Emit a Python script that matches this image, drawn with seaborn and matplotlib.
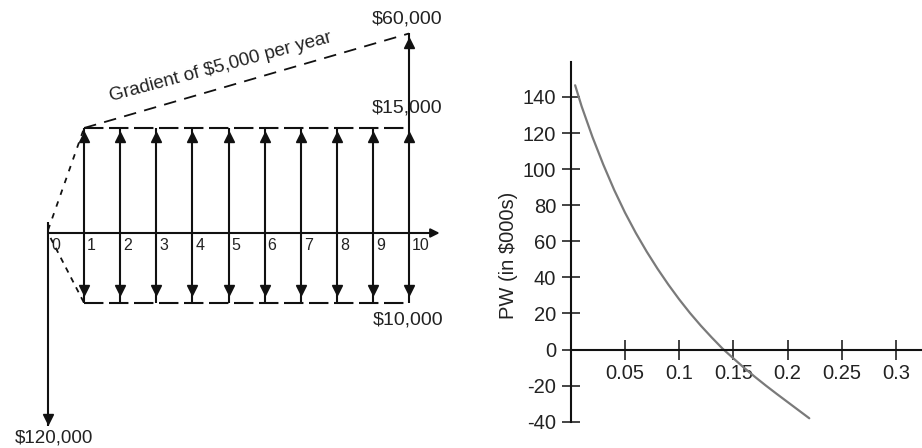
import numpy as np
import pandas as pd
import matplotlib
matplotlib.use('Agg')
import matplotlib.pyplot as plt
import seaborn as sns

sns.set_theme(style='white')
plt.rcParams['font.family'] = ['Liberation Sans', 'DejaVu Sans']
plt.rcParams['lines.scale_dashes'] = False

# cash flow diagram (amounts in $000)
years = list(range(11))
receipts = [0, 15, 15, 15, 15, 15, 15, 15, 15, 15, 60]
costs = [120, 10, 10, 10, 10, 10, 10, 10, 10, 10, 10]
# the two big flows are shortened in the diagram (not to scale)
drawn_up = [0, 15, 15, 15, 15, 15, 15, 15, 15, 15, 28.5]
drawn_down = [27.5, 10, 10, 10, 10, 10, 10, 10, 10, 10, 10]
gradient_text = 'Gradient of $5,000 per year'

# PW vs interest rate
rates = [0.004, 0.01, 0.02, 0.03, 0.04, 0.05, 0.06, 0.07, 0.08, 0.09, 0.10, 0.11,
         0.12, 0.13, 0.14, 0.15, 0.16, 0.17, 0.18, 0.19, 0.20, 0.21, 0.22]
pw = [146.5, 134.8, 117.8, 102.5, 88.5, 75.9, 64.6, 54.3, 44.8, 36.0, 27.8, 20.2,
      13.2, 6.7, 0.5, -4.9, -10.2, -15.2, -20.0, -24.6, -29.1, -33.6, -38.1]
x_ticks = [0.05, 0.1, 0.15, 0.2, 0.25, 0.3]
x_labels = ['0.05', '0.1', '0.15', '0.2', '0.25', '0.3']
y_ticks = [-40, -20, 0, 20, 40, 60, 80, 100, 120, 140]
y_label = 'PW (in $000s)'

ink = '#111111'
txt = '#222222'

fig = plt.figure(figsize=(9.22, 4.48), dpi=100)

# ---- left: cash flow diagram ----
ax1 = fig.add_axes([0, 0, 460 / 922, 1])
ax1.set_xlim(-48 / 36.1, (460 - 48) / 36.1)
ax1.set_ylim(-(448 - 233) / 7, 233 / 7)
ax1.axis('off')

# time axis with arrow
ax1.annotate('', xy=(10.85, 0), xytext=(0, 0),
             arrowprops=dict(arrowstyle='-|>', color=ink, lw=1.5, mutation_scale=13,
                             shrinkA=0, shrinkB=0))

for yr, up, down in zip(years, drawn_up, drawn_down):
    top = up if up > 0 else 1.6
    ax1.plot([yr, yr], [-down, top], color=ink, lw=1.5, solid_capstyle='butt')
    if up > 0:
        ax1.plot(yr, up - 1.3, marker='^', color=ink, ms=6.5, mec=ink)
    if yr == 0:
        ax1.plot(yr, -down + 1.0, marker='v', color=ink, ms=6.5, mec=ink)
    else:
        ax1.plot(yr, -down + 1.85, marker='v', color=ink, ms=6.5, mec=ink)
    ax1.annotate(str(yr), xy=(yr, 0), xytext=(3, -12), textcoords='offset pixels',
                 ha='left', va='center', fontsize=11.5, color=txt)

# year-10 arrow also passes the $15,000 level
ax1.plot(years[-1], receipts[1] - 1.3, marker='^', color=ink, ms=6.5, mec=ink)

# dashed guide lines
ax1.plot([years[1], years[-1]], [drawn_up[1], drawn_up[1]], color=ink, lw=1.5, ls=(0, (14, 4)))
ax1.plot([years[1], years[-1]], [-drawn_down[1], -drawn_down[1]], color=ink, lw=1.5, ls=(0, (14, 4)))
ax1.plot([years[1], years[-1]], [drawn_up[1], drawn_up[-1]], color=ink, lw=1.3, ls=(0, (9, 6)))
ax1.plot([years[0], years[1]], [0.4, drawn_up[1]], color=ink, lw=1.3, ls=(0, (4, 5)))
ax1.plot([years[0], years[1]], [0, -drawn_down[1]], color=ink, lw=1.3, ls=(12, (4, 4)))

ax1.annotate(f'${receipts[-1]},000', xy=(years[-1], drawn_up[-1]), xytext=(-2, 14),
             textcoords='offset pixels', ha='center', va='center', fontsize=14, color=txt)
ax1.annotate(f'${receipts[1]},000', xy=(years[-1], drawn_up[1]), xytext=(-2, 20),
             textcoords='offset pixels', ha='center', va='center', fontsize=14, color=txt)
ax1.annotate(f'${costs[1]},000', xy=(years[-1], -drawn_down[1]), xytext=(-1, -17),
             textcoords='offset pixels', ha='center', va='center', fontsize=14, color=txt)
ax1.annotate(f'${costs[0]},000', xy=(years[0], -drawn_down[0]), xytext=(6, -12),
             textcoords='offset pixels', ha='center', va='center', fontsize=13.5, color=txt)
mid = ((years[1] + years[-1]) / 2, (drawn_up[1] + drawn_up[-1]) / 2)
ax1.annotate(gradient_text, xy=mid, xytext=(-26, 14), textcoords='offset pixels',
             ha='center', va='center', rotation=15, rotation_mode='anchor',
             fontsize=13.5, color=txt)

# ---- right: PW curve ----
ax2 = fig.add_axes([570.8 / 922, (448 - 421.7) / 448, (922 - 570.8) / 922, (421.7 - 62) / 448])
curve = pd.DataFrame({'rate': rates, 'pw': pw})
sns.lineplot(data=curve, x='rate', y='pw', ax=ax2, color='#7a7a7a', lw=1.6)
ax2.set_xlim(0, (922 - 570.8) / 1084)
ax2.set_ylim(-40, 159.4)
for s in ['top', 'right']:
    ax2.spines[s].set_visible(False)
ax2.spines['bottom'].set_position(('data', 0))
ax2.spines['left'].set_position(('data', 0))
for s in ['bottom', 'left']:
    ax2.spines[s].set_color(ink)
    ax2.spines[s].set_linewidth(1.5)
ax2.set_xticks(x_ticks)
ax2.set_xticklabels(x_labels)
ax2.set_yticks(y_ticks)
ax2.set_yticklabels([str(v) for v in y_ticks])
ax2.tick_params(axis='x', bottom=True, direction='inout', length=15, width=1.1, color=ink,
                pad=3, labelsize=14.5, labelcolor=txt)
ax2.tick_params(axis='y', left=True, direction='inout', length=12.5, width=1.1, color=ink,
                pad=4.3, labelsize=14.5, labelcolor=txt)
ax2.set_xlabel('')
ax2.set_ylabel('')
ax2.patch.set_alpha(0)
fig.text(509 / 922, 1 - 255 / 448, y_label, rotation=90, ha='center', va='center',
         fontsize=14.5, color=txt)

fig.savefig('out.png', dpi=100)
